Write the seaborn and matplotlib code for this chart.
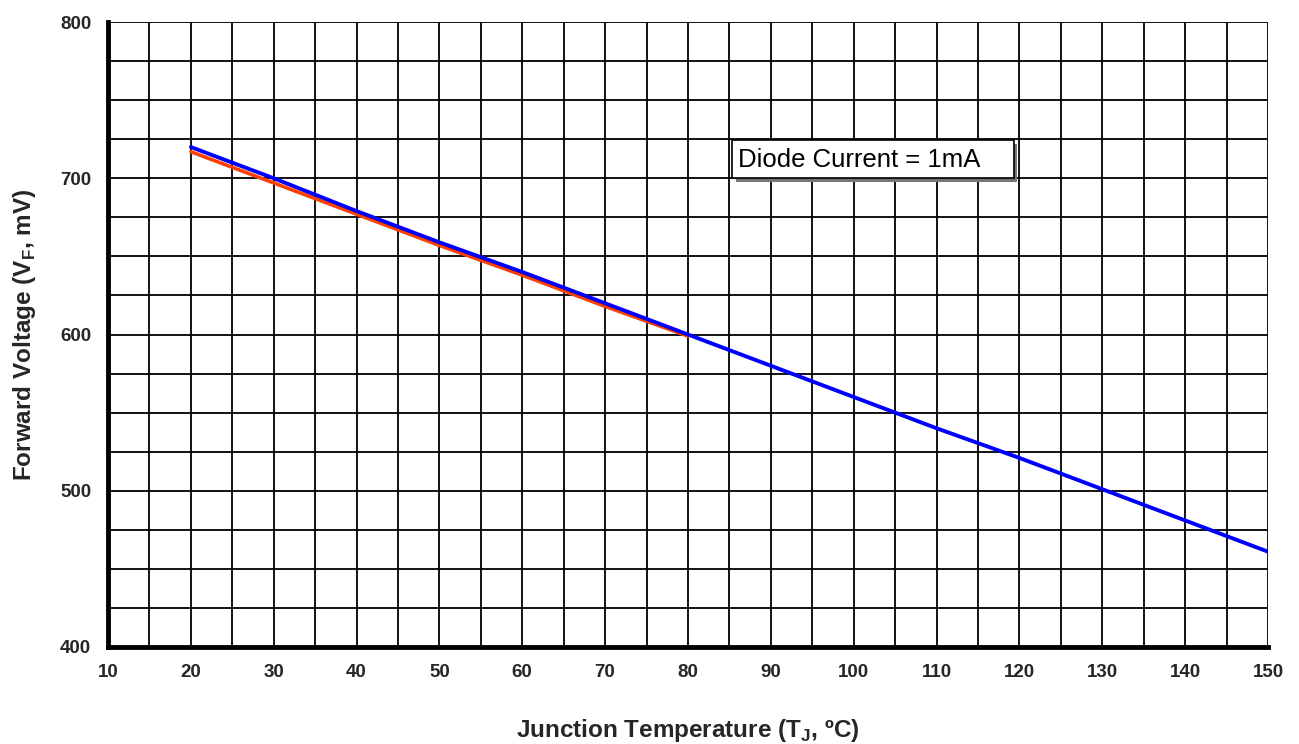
import numpy as np
import pandas as pd
import matplotlib
matplotlib.use("Agg")
import matplotlib.pyplot as plt
import matplotlib.patches as mpatches
import matplotlib.patheffects as pe
import seaborn as sns
from matplotlib.ticker import MultipleLocator

temp_blue = [20, 30, 40, 50, 60, 70, 80, 90, 100, 110, 120, 130, 140, 150]
vf_blue = [720, 700, 679, 659, 640, 620, 600, 580, 560, 540, 521, 501, 481, 461]
temp_red = [20, 30, 40, 50, 60, 70, 80]
vf_red = [717, 697, 677, 657, 638, 618, 599]
x_ticks = [10, 20, 30, 40, 50, 60, 70, 80, 90, 100, 110, 120, 130, 140, 150]
y_ticks = [400, 500, 600, 700, 800]

sns.set_style("white")
plt.rcParams['font.family'] = ['Liberation Sans', 'DejaVu Sans']
plt.rcParams['mathtext.fontset'] = 'custom'
plt.rcParams['mathtext.rm'] = 'Liberation Sans'
plt.rcParams['mathtext.bf'] = 'Liberation Sans:bold'

fig = plt.figure(figsize=(12.99, 7.44), dpi=100)
ax = fig.add_axes([0.0831, 0.1304, 0.9761 - 0.0831, 0.9704 - 0.1304])

df_red = pd.DataFrame({"T": temp_red, "V": vf_red})
df_blue = pd.DataFrame({"T": temp_blue, "V": vf_blue})
sns.lineplot(data=df_red, x="T", y="V", ax=ax, color="#ff4000", linewidth=2.6, zorder=3)
sns.lineplot(data=df_blue, x="T", y="V", ax=ax, color="#0000ff", linewidth=2.8, zorder=4)

ax.set_xlim(10, 150)
ax.set_ylim(400, 800)
ax.set_xticks(x_ticks)
ax.set_yticks(y_ticks)
ax.xaxis.set_minor_locator(MultipleLocator(5))
ax.yaxis.set_minor_locator(MultipleLocator(25))
ax.grid(True, which='both', color='black', linewidth=1.3)
ax.set_axisbelow(True)
for lab in ax.get_xticklabels() + ax.get_yticklabels():
    lab.set_fontweight('bold')
    lab.set_fontsize(13.5)
ax.tick_params(axis='both', which='major', direction='out', length=4, width=2, color='black', pad=8)
ax.tick_params(axis='both', which='minor', length=0)

for s in ['left', 'bottom']:
    ax.spines[s].set_linewidth(3.5)
    ax.spines[s].set_color('black')
for s in ['top', 'right']:
    ax.spines[s].set_visible(False)

ax.set_xlabel("Junction Temperature (T$_\\mathbf{J}$, ºC)", fontsize=17.5, fontweight='bold', labelpad=26)
ax.set_ylabel("Forward Voltage (V$_\\mathbf{F}$, mV)", fontsize=17.5, fontweight='bold', labelpad=16)

box = mpatches.Rectangle((0.538, 0.750), 0.243, 0.061, transform=ax.transAxes,
                         facecolor='white', edgecolor='black', linewidth=1.2, zorder=5)
box.set_path_effects([pe.SimplePatchShadow(offset=(2.5, -2.5), shadow_rgbFace='#777777', alpha=1.0), pe.Normal()])
ax.add_patch(box)
ax.text(0.543, 0.780, "Diode Current = 1mA", transform=ax.transAxes, fontsize=18.5,
        va='center', ha='left', zorder=6, color='black')

fig.savefig("out.png", dpi=100)
